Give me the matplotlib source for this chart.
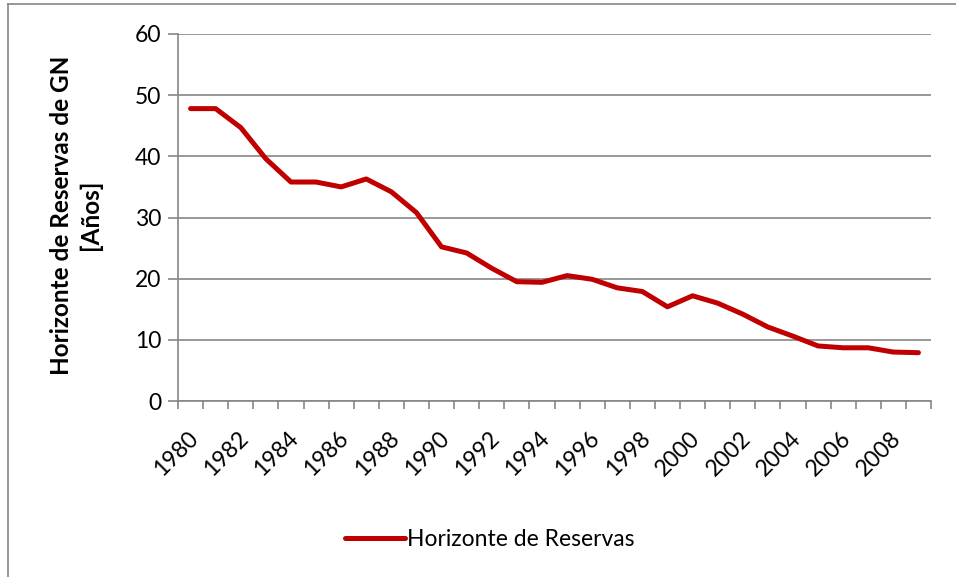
import matplotlib
matplotlib.use("Agg")
import matplotlib.pyplot as plt
import matplotlib.ticker as mticker
import matplotlib.transforms as mtransforms
from matplotlib.lines import Line2D

plt.rcParams['font.family'] = ['Lato', 'DejaVu Sans']

years = list(range(1980, 2010))
horizonte = [47.8, 47.8, 44.7, 39.6, 35.8, 35.8, 35.0, 36.3, 34.2, 30.8,
             25.2, 24.2, 21.7, 19.5, 19.4, 20.5, 19.9, 18.5, 17.9, 15.4,
             17.2, 16.0, 14.2, 12.1, 10.6, 9.0, 8.7, 8.7, 8.0, 7.9]
series_name = 'Horizonte de Reservas'
y_label = 'Horizonte de Reservas de GN\n[Años]'

grey = '#868686'
fs = 16.5

fig = plt.figure(figsize=(9.56, 5.77), dpi=100)
fig.patch.set_facecolor('white')

# outer chart border (left and top only visible in the crop)
fig.add_artist(Line2D([8 / 956, 8 / 956], [0, 1 - 4 / 577], transform=fig.transFigure,
                      color=grey, lw=1.2))
fig.add_artist(Line2D([8 / 956, 1], [1 - 4 / 577, 1 - 4 / 577], transform=fig.transFigure,
                      color=grey, lw=1.2))

ax = fig.add_axes([178 / 956, 1 - 401 / 577, 753 / 956, 367 / 577])

x = list(range(len(years)))
line, = ax.plot(x, horizonte, color='#C00000', lw=3.6, solid_capstyle='round',
                solid_joinstyle='round', label=series_name, zorder=3)

ax.set_xlim(-0.5, len(years) - 0.5)
ax.set_ylim(0, 60)
ax.yaxis.set_major_locator(mticker.MultipleLocator(10))
ax.grid(axis='y', color=grey, lw=1.2, zorder=0)

# category axis: tick marks at boundaries, labels every other year
ax.set_xticks([i - 0.5 for i in range(len(years) + 1)], minor=True)
ax.set_xticks(x[::2])
ax.set_xticklabels([str(y) for y in years[::2]], rotation=45, ha='right',
                   rotation_mode='anchor', fontsize=fs)
ax.tick_params(axis='x', which='major', length=0, pad=19)
ax.tick_params(axis='x', which='minor', length=6, color=grey, width=1.2, direction='out')
ax.tick_params(axis='y', length=7, color=grey, width=1.2, labelsize=fs, pad=5)
shift = mtransforms.ScaledTranslation(-3 / 100, 0, fig.dpi_scale_trans)
for lbl in ax.get_xticklabels():
    lbl.set_transform(lbl.get_transform() + shift)

for s in ['top', 'right']:
    ax.spines[s].set_visible(False)
for s in ['bottom', 'left']:
    ax.spines[s].set_color(grey)
    ax.spines[s].set_linewidth(1.2)

fig.text(76 / 956, 1 - 215 / 577, y_label, rotation=90, ha='center', va='center',
         fontsize=17.5, fontweight='bold', linespacing=1.25, multialignment='center')

fig.legend(handles=[line], loc='center', bbox_to_anchor=(490 / 956, 1 - 540 / 577),
           frameon=False, fontsize=fs, handlelength=2.6, handletextpad=0.1)

fig.savefig('out.png', dpi=100, facecolor='white')
